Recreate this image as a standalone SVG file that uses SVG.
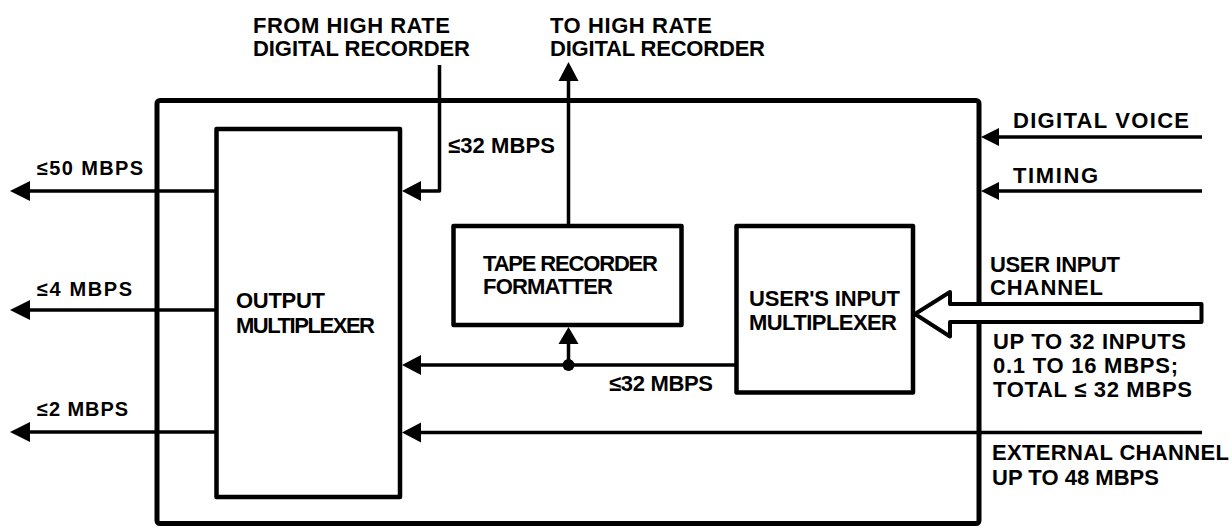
<svg xmlns="http://www.w3.org/2000/svg" width="1231" height="528" viewBox="0 0 1231 528">
<style>
.box{fill:none;stroke:#000;stroke-width:4.5;stroke-linejoin:round}
.ln{fill:none;stroke:#000;stroke-width:3.5;stroke-linejoin:round}
.ah{fill:#000;stroke:none}
text{font-family:"Liberation Sans",Arial,sans-serif;font-weight:bold;font-size:22px;fill:#000}
.s20{font-size:20px}
</style>
<rect width="1231" height="528" fill="#fff"/>
<g id="connectors">
<line class="ln" x1="217" y1="191" x2="26" y2="191"/>
<polygon class="ah" points="10,191 30,181 30,201"/>
<line class="ln" x1="217" y1="310" x2="26" y2="310"/>
<polygon class="ah" points="10,310 30,300 30,320"/>
<line class="ln" x1="217" y1="432" x2="26" y2="432"/>
<polygon class="ah" points="10,432 30,422 30,442"/>
<path class="ln" d="M439.5,65 V191 H418"/>
<polygon class="ah" points="402,191 421,181 421,201"/>
<line class="ln" x1="568.5" y1="226" x2="568.5" y2="78"/>
<polygon class="ah" points="568.5,62 558.5,81 578.5,81"/>
<line class="ln" x1="737" y1="365" x2="418" y2="365"/>
<polygon class="ah" points="402,365 421,355 421,375"/>
<line class="ln" x1="568.5" y1="365" x2="568.5" y2="342"/>
<polygon class="ah" points="568.5,327 558.5,344 578.5,344"/>
<circle cx="568.5" cy="365" r="6" fill="#000"/>
<line class="ln" x1="1202" y1="432.5" x2="418" y2="432.5"/>
<polygon class="ah" points="402,432.5 421,422.5 421,442.5"/>
<line class="ln" x1="1202" y1="137" x2="996" y2="137"/>
<polygon class="ah" points="981,137 999,128 999,146"/>
<line class="ln" x1="1202" y1="191" x2="996" y2="191"/>
<polygon class="ah" points="981,191 999,182 999,200"/>
</g>
<g id="outer">
<rect x="157" y="100.5" width="822" height="423" rx="3" fill="none" stroke="#000" stroke-width="5"/>
</g>
<g id="user-input-channel">
<polygon points="1201.5,304 950,304 950,292 915,314 950,336.5 950,322 1201.5,322" fill="#fff" stroke="#000" stroke-width="4" stroke-linejoin="round"/>
</g>
<g id="output-mux">
<rect class="box" x="216.5" y="129" width="183.5" height="368"/>
<text x="236" y="308" textLength="89">OUTPUT</text>
<text x="236" y="333" textLength="139">MULTIPLEXER</text>
</g>
<g id="tape-formatter">
<rect class="box" x="453.5" y="226" width="228" height="99"/>
<text x="483" y="271" textLength="175">TAPE RECORDER</text>
<text x="483" y="294" textLength="130">FORMATTER</text>
</g>
<g id="users-input-mux">
<rect class="box" x="736.5" y="226" width="176.5" height="166.5"/>
<text x="749" y="306" textLength="151">USER'S INPUT</text>
<text x="749" y="330" textLength="148">MULTIPLEXER</text>
</g>
<g id="labels">
<text x="253" y="33" textLength="197">FROM HIGH RATE</text>
<text x="253" y="56" textLength="217">DIGITAL RECORDER</text>
<text x="550" y="33" textLength="162">TO HIGH RATE</text>
<text x="550" y="56" textLength="215">DIGITAL RECORDER</text>
<text x="448" y="153" textLength="107">≤32 MBPS</text>
<text class="s20" x="37" y="175" textLength="106">≤50 MBPS</text>
<text class="s20" x="37" y="296" textLength="95">≤4 MBPS</text>
<text class="s20" x="37" y="416" textLength="91">≤2 MBPS</text>
<text x="609" y="391" textLength="104">≤32 MBPS</text>
<text x="1013" y="128" textLength="176">DIGITAL VOICE</text>
<text x="1013" y="183" textLength="85">TIMING</text>
<text x="990" y="272" textLength="130">USER INPUT</text>
<text x="990" y="295" textLength="113">CHANNEL</text>
<text x="993" y="349" textLength="193">UP TO 32 INPUTS</text>
<text x="993" y="373" textLength="185">0.1 TO 16 MBPS;</text>
<text x="993" y="397" textLength="199">TOTAL ≤ 32 MBPS</text>
<text x="992" y="460" textLength="237">EXTERNAL CHANNEL</text>
<text x="992" y="485" textLength="167">UP TO 48 MBPS</text>
</g>
</svg>
